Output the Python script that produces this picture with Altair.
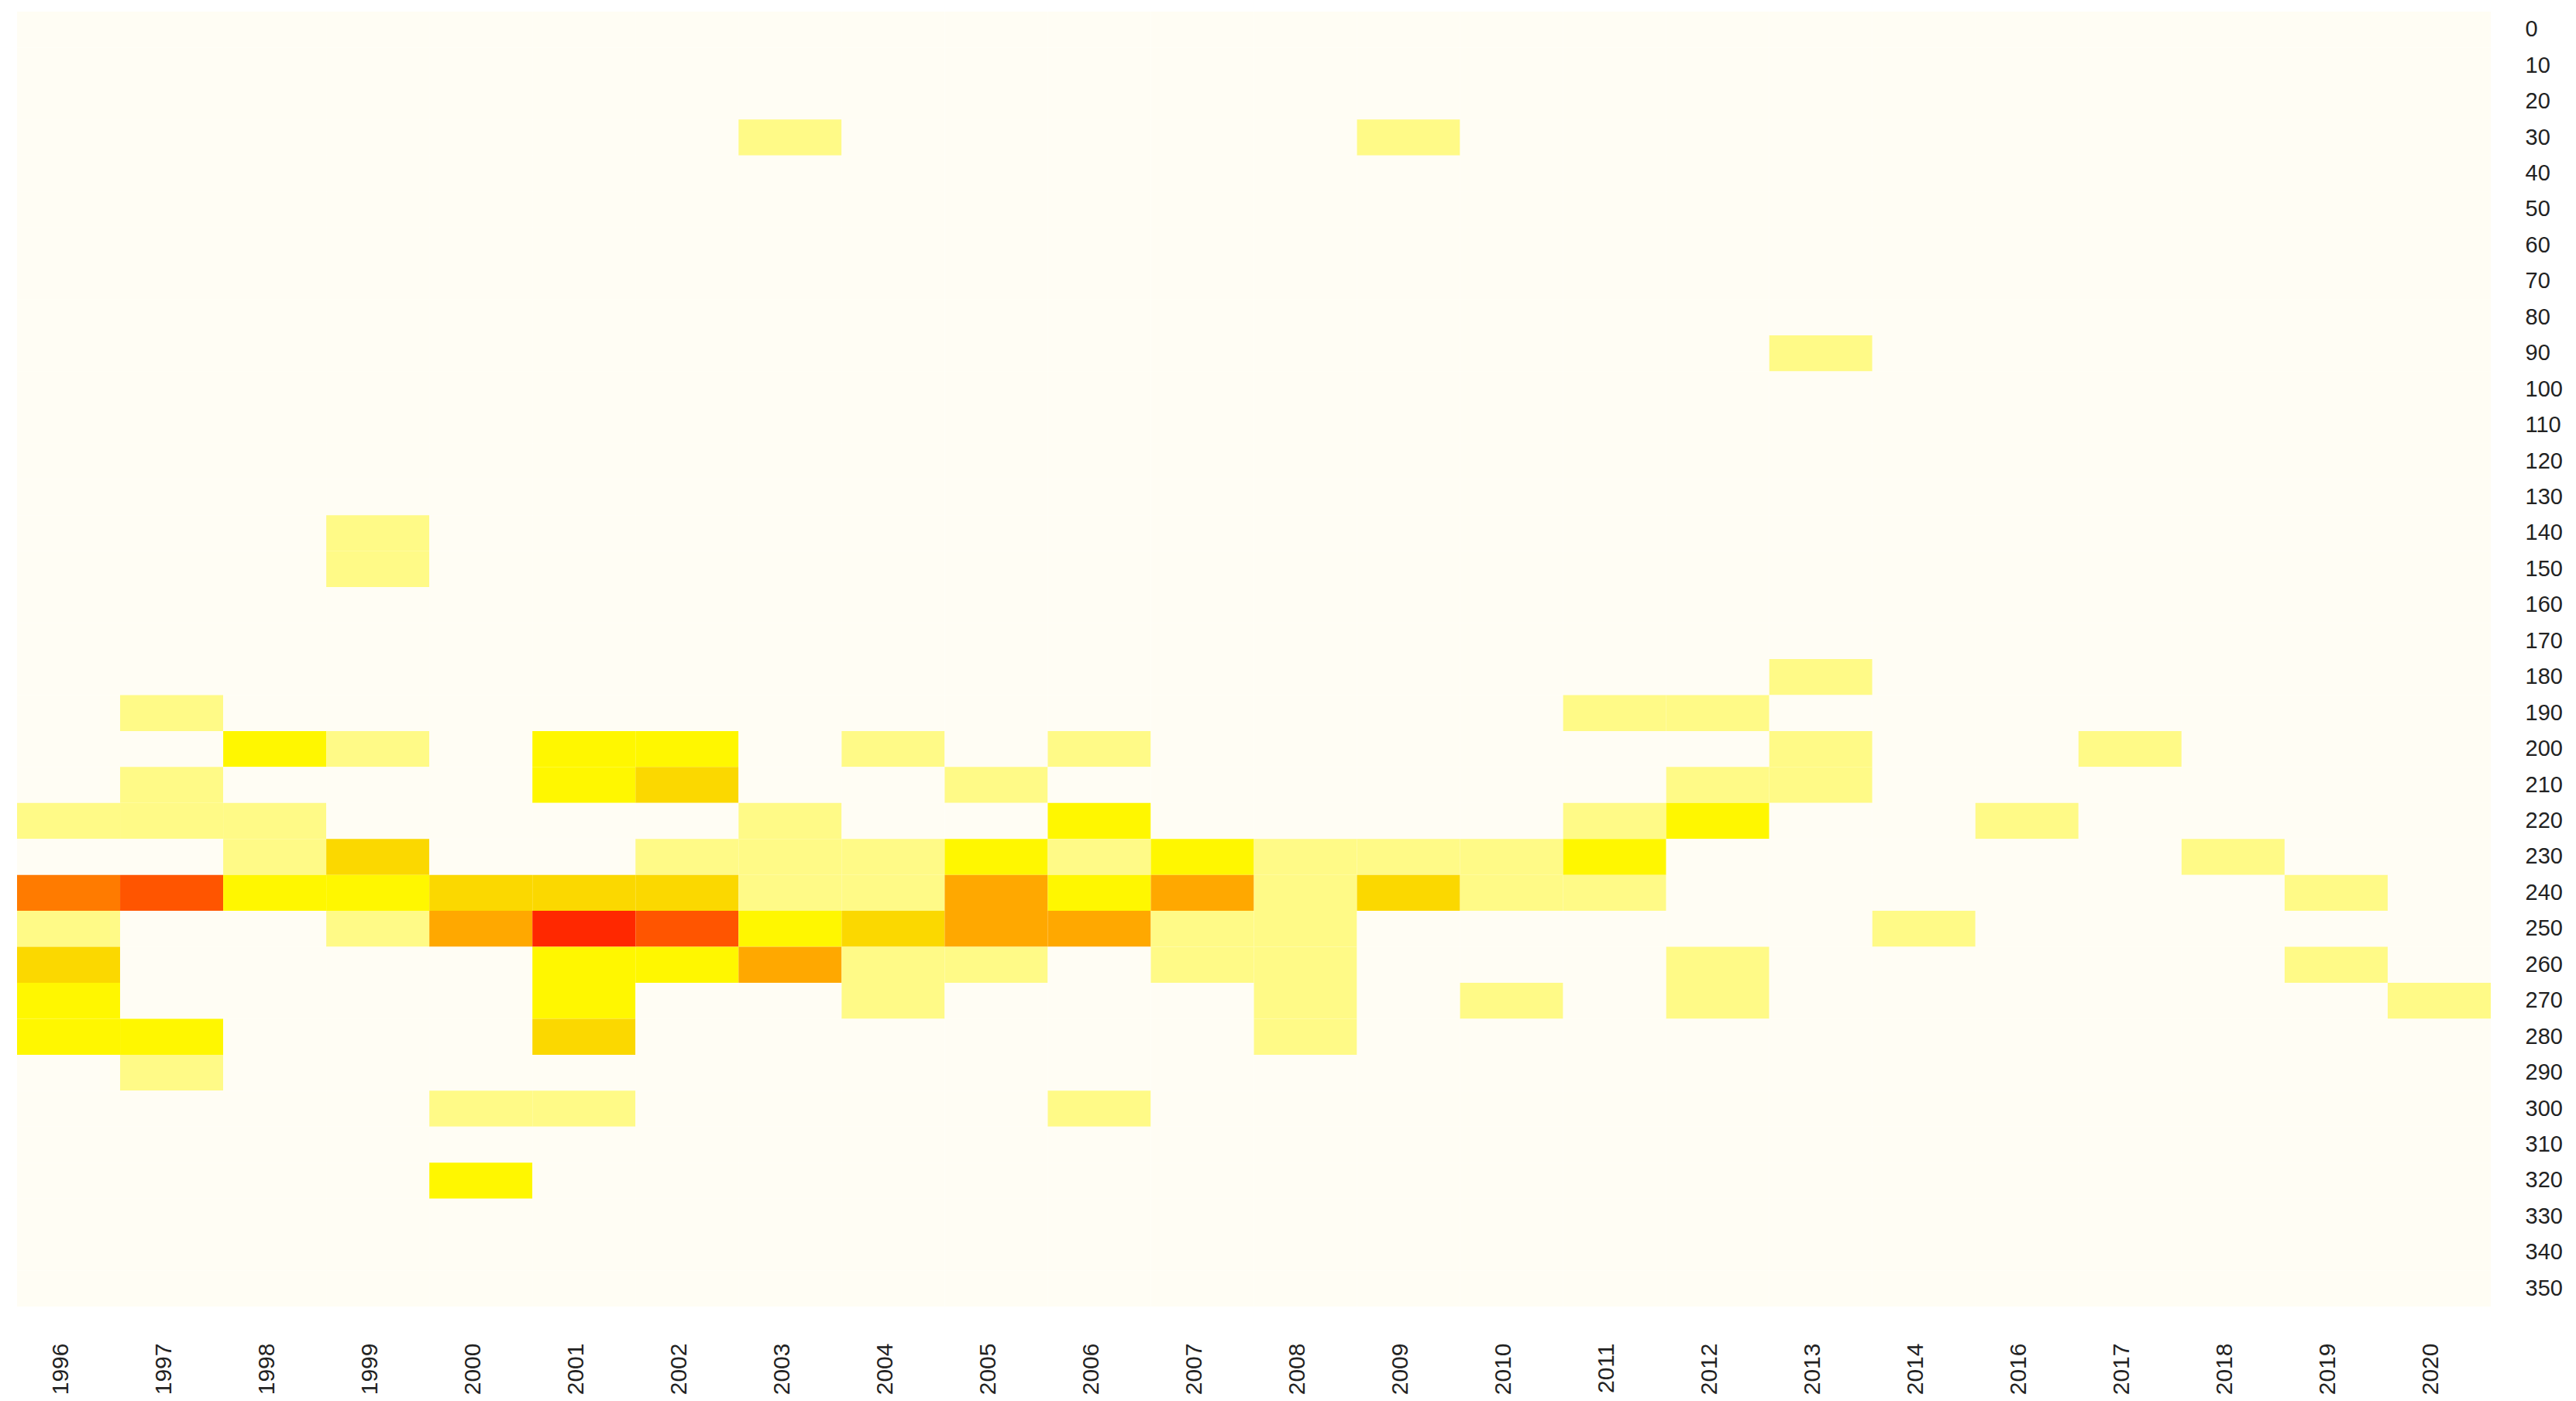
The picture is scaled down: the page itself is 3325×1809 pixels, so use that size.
import altair as alt
import pandas as pd

years = ["1996", "1997", "1998", "1999", "2000", "2001", "2002", "2003", "2004",
         "2005", "2006", "2007", "2008", "2009", "2010", "2011", "2012", "2013",
         "2014", "2016", "2017", "2018", "2019", "2020"]
bins = list(range(0, 360, 10))

# non-empty cells: year, bin, count level
cell_year = (["1996"] * 6 + ["1997"] * 6 + ["1998"] * 4 + ["1999"] * 6 + ["2000"] * 4 +
             ["2001"] * 8 + ["2002"] * 6 + ["2003"] * 6 + ["2004"] * 6 + ["2005"] * 5 +
             ["2006"] * 6 + ["2007"] * 4 + ["2008"] * 6 + ["2009"] * 3 + ["2010"] * 3 +
             ["2011"] * 4 + ["2012"] * 5 + ["2013"] * 4 + ["2014"] + ["2016"] + ["2017"] +
             ["2018"] + ["2019"] * 2 + ["2020"])
cell_bin = [220, 240, 250, 260, 270, 280,
            190, 210, 220, 240, 280, 290,
            200, 220, 230, 240,
            140, 150, 200, 230, 240, 250,
            240, 250, 300, 320,
            200, 210, 240, 250, 260, 270, 280, 300,
            200, 210, 230, 240, 250, 260,
            30, 220, 230, 240, 250, 260,
            200, 230, 240, 250, 260, 270,
            210, 230, 240, 250, 260,
            200, 220, 230, 240, 250, 300,
            230, 240, 250, 260,
            230, 240, 250, 260, 270, 280,
            30, 230, 240,
            230, 240, 270,
            190, 220, 230, 240,
            190, 210, 220, 260, 270,
            90, 180, 200, 210,
            250,
            220,
            200,
            230,
            240, 260,
            270]
cell_level = [1, 5, 1, 3, 2, 2,
              1, 1, 1, 6, 2, 1,
              2, 1, 1, 2,
              1, 1, 1, 3, 2, 1,
              3, 4, 1, 2,
              2, 2, 3, 7, 2, 2, 3, 1,
              2, 3, 1, 3, 6, 2,
              1, 1, 1, 1, 2, 4,
              1, 1, 1, 3, 1, 1,
              1, 2, 4, 4, 1,
              1, 2, 1, 2, 4, 1,
              2, 4, 1, 1,
              1, 1, 1, 1, 1, 1,
              1, 1, 3,
              1, 1, 1,
              1, 1, 2, 1,
              1, 1, 2, 1, 1,
              1, 1, 1, 1,
              1,
              1,
              1,
              1,
              1, 1,
              1]

levels = [0, 1, 2, 3, 4, 5, 6, 7]
level_colors = ["#FFFDF4", "#FFFA87", "#FFF700", "#FBD800", "#FFA800",
                "#FF7B00", "#FF5500", "#FF2800"]

lookup = {(y, b): v for y, b, v in zip(cell_year, cell_bin, cell_level)}
rows = [{"year": y, "bin": b, "level": lookup.get((y, b), 0)} for y in years for b in bins]
df = pd.DataFrame(rows)

chart = alt.Chart(df).mark_rect(strokeWidth=0).encode(
    x=alt.X("year:O", sort=years, title=None,
            scale=alt.Scale(paddingInner=0, paddingOuter=0),
            axis=alt.Axis(labelAngle=-90, ticks=False, domain=False, labelPadding=47,
                          labelOffset=-10, labelFontSize=30, labelFont="Liberation Sans",
                          labelColor="#222222")),
    y=alt.Y("bin:O", sort=bins, title=None,
            scale=alt.Scale(paddingInner=0, paddingOuter=0),
            axis=alt.Axis(orient="right", ticks=False, domain=False, labelPadding=44,
                          labelAlign="left", labelFontSize=29, labelFont="Liberation Sans",
                          labelColor="#222222")),
    color=alt.Color("level:O", scale=alt.Scale(domain=levels, range=level_colors), legend=None),
).properties(
    width=3193,
    height=1672,
    padding={"left": 14, "top": 7, "right": 5, "bottom": 0},
).configure_view(stroke=None).configure_axis(grid=False)

chart.save("out.html", embed_options={"renderer": "svg", "actions": False})
